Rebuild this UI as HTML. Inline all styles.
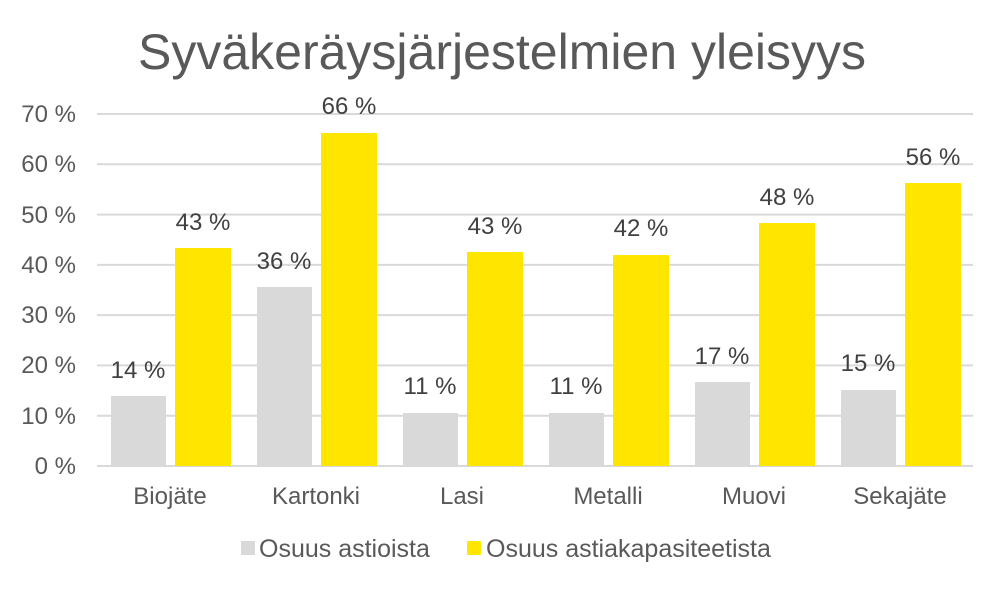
<!DOCTYPE html>
<html><head><meta charset="utf-8"><style>
html,body{margin:0;padding:0;background:#fff;}
svg{display:block;font-family:"Liberation Sans",Arial,sans-serif;}
</style></head><body>
<svg width="1004" height="590" viewBox="0 0 1004 590">
<rect width="1004" height="590" fill="#fff"/>
<text x="502" y="69" text-anchor="middle" font-size="50" fill="#595959">Syväkeräysjärjestelmien yleisyys</text>
<g stroke="#d9d9d9" stroke-width="2">
<line x1="97" x2="973" y1="114" y2="114"/>
<line x1="97" x2="973" y1="164.3" y2="164.3"/>
<line x1="97" x2="973" y1="214.6" y2="214.6"/>
<line x1="97" x2="973" y1="264.9" y2="264.9"/>
<line x1="97" x2="973" y1="315.1" y2="315.1"/>
<line x1="97" x2="973" y1="365.4" y2="365.4"/>
<line x1="97" x2="973" y1="415.7" y2="415.7"/>
<line x1="97" x2="973" y1="466" y2="466"/>
</g>
<g font-size="24" fill="#595959" text-anchor="end">
<text x="76" y="122">70 %</text>
<text x="76" y="172">60 %</text>
<text x="76" y="223">50 %</text>
<text x="76" y="273">40 %</text>
<text x="76" y="323">30 %</text>
<text x="76" y="373">20 %</text>
<text x="76" y="424">10 %</text>
<text x="76" y="474">0 %</text>
</g>
<g fill="#d9d9d9">
<rect x="111" y="396" width="55" height="70"/>
<rect x="257" y="287" width="55" height="179"/>
<rect x="403" y="413" width="55" height="53"/>
<rect x="549" y="413" width="55" height="53"/>
<rect x="695" y="382" width="55" height="84"/>
<rect x="841" y="390" width="55" height="76"/>
</g>
<g fill="#ffe600">
<rect x="175" y="248" width="56" height="218"/>
<rect x="321" y="133" width="56" height="333"/>
<rect x="467" y="252" width="56" height="214"/>
<rect x="613" y="255" width="56" height="211"/>
<rect x="759" y="223" width="56" height="243"/>
<rect x="905" y="183" width="56" height="283"/>
</g>
<g font-size="24" fill="#404040" text-anchor="middle">
<text x="138" y="378">14 %</text>
<text x="284" y="269">36 %</text>
<text x="430" y="394">11 %</text>
<text x="576" y="394">11 %</text>
<text x="722" y="364">17 %</text>
<text x="868" y="371">15 %</text>
<text x="203" y="230">43 %</text>
<text x="349" y="114">66 %</text>
<text x="495" y="234">43 %</text>
<text x="641" y="236">42 %</text>
<text x="787" y="205">48 %</text>
<text x="933" y="165">56 %</text>
</g>
<g font-size="24" fill="#595959" text-anchor="middle">
<text x="170" y="504">Biojäte</text>
<text x="316" y="504">Kartonki</text>
<text x="462" y="504">Lasi</text>
<text x="608" y="504">Metalli</text>
<text x="754" y="504">Muovi</text>
<text x="900" y="504">Sekajäte</text>
</g>
<rect x="241" y="541" width="14" height="14" fill="#d9d9d9"/>
<text x="259" y="557" font-size="25" fill="#595959">Osuus astioista</text>
<rect x="467" y="541" width="14" height="14" fill="#ffe600"/>
<text x="486" y="557" font-size="25" fill="#595959">Osuus astiakapasiteetista</text>
</svg>
</body></html>
